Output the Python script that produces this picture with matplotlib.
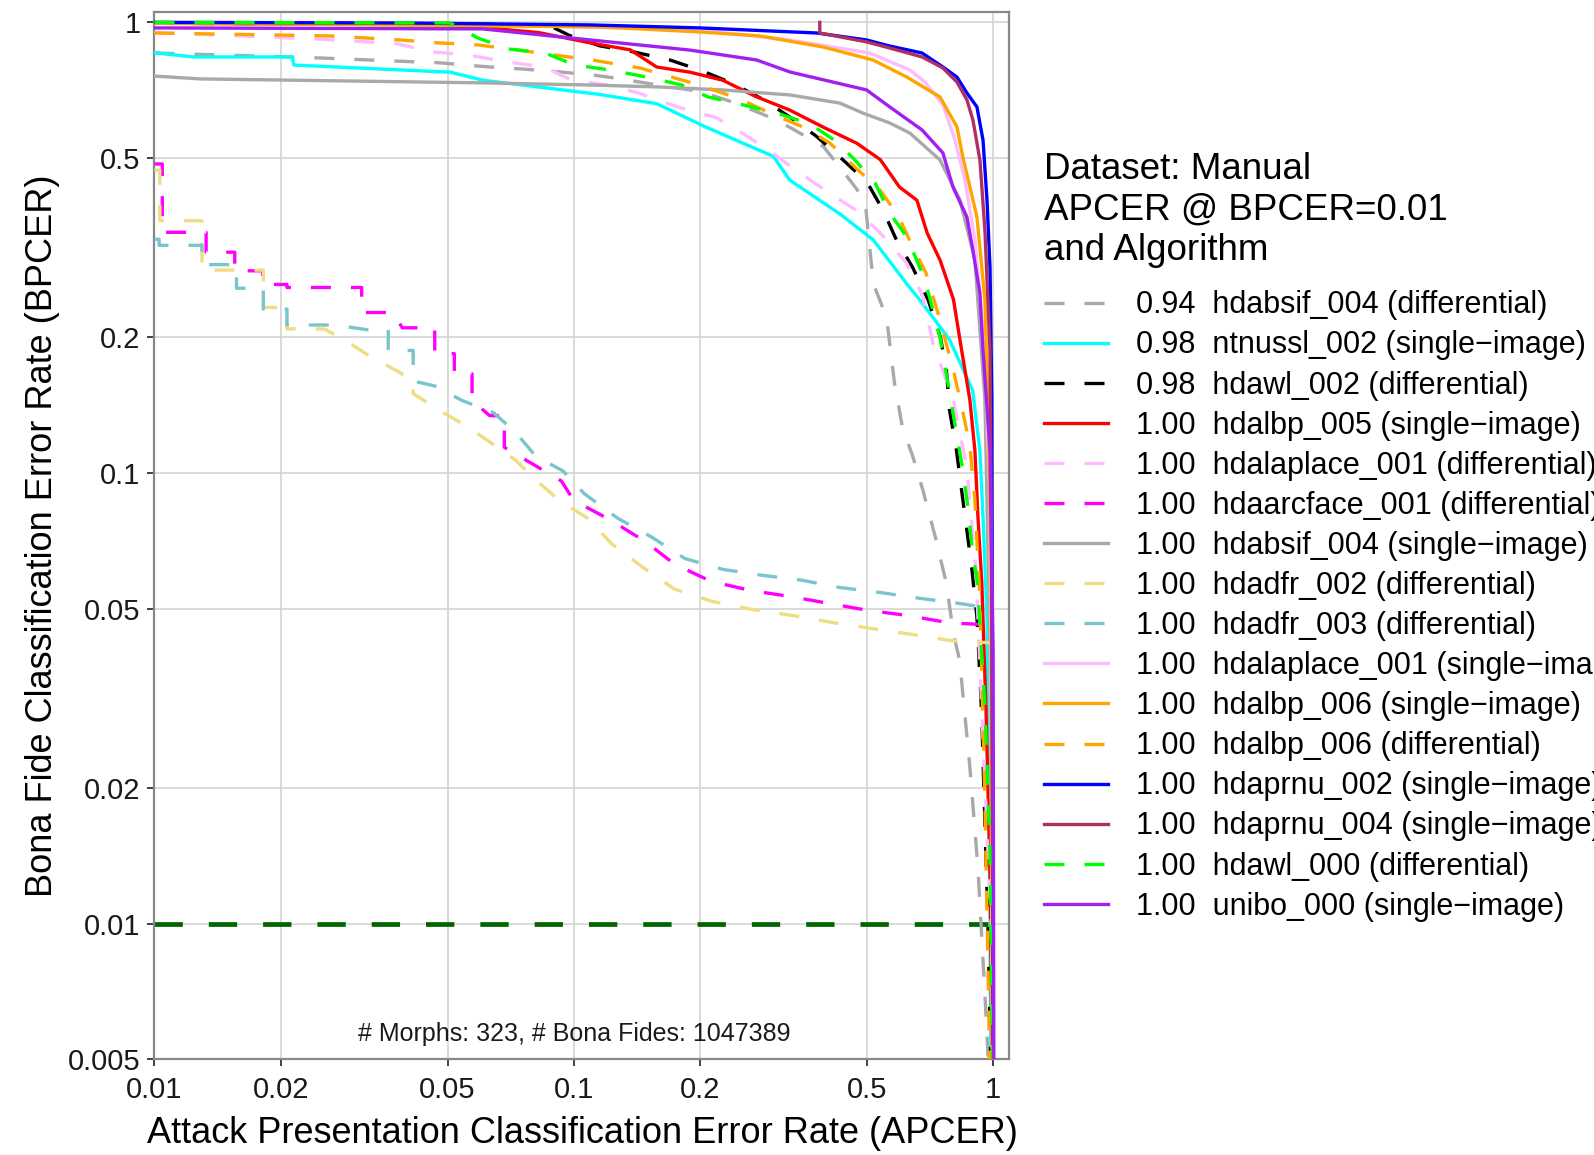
import numpy as np
import matplotlib.pyplot as plt
from matplotlib.ticker import FixedLocator, FixedFormatter, NullLocator

plt.rcParams['font.family'] = ['Liberation Sans', 'DejaVu Sans']

# ---- data (APCER on x, BPCER on y) ----
apcer_absif_diff = [0.01, 0.0245, 0.048, 0.063, 0.0768, 0.093, 0.111, 0.122, 0.2, 0.24, 0.305, 0.394, 0.455,
                    0.495, 0.518, 0.557, 0.582, 0.608, 0.643, 0.680, 0.728, 0.774, 0.804, 0.832, 0.88, 0.92,
                    0.967, 0.978]
bpcer_absif_diff = [0.855, 0.834, 0.813, 0.796, 0.787, 0.776, 0.764, 0.755, 0.702, 0.665, 0.607, 0.530, 0.447,
                    0.403, 0.263, 0.2215, 0.158, 0.126, 0.109, 0.0916, 0.0721, 0.0568, 0.044, 0.0384, 0.0223,
                    0.0133, 0.0057, 0.0045]

apcer_ntnussl = [0.01, 0.01236, 0.0213, 0.0215, 0.0508, 0.0607, 0.115, 0.1576, 0.207, 0.2995, 0.327, 0.4305,
                 0.518, 0.622, 0.669, 0.787, 0.894, 0.930, 0.946, 0.967, 0.978, 0.989]
bpcer_ntnussl = [0.856, 0.838, 0.838, 0.804, 0.775, 0.744, 0.692, 0.660, 0.585, 0.504, 0.447, 0.376,
                 0.329, 0.263, 0.242, 0.1977, 0.1524, 0.112, 0.080, 0.0478, 0.0175, 0.0045]

apcer_wl002 = [0.01, 0.0624, 0.0872, 0.0977, 0.1153, 0.1387, 0.1695, 0.2004, 0.2394, 0.283, 0.327, 0.3786,
               0.4377, 0.5005, 0.547, 0.588, 0.643, 0.70, 0.748, 0.774, 0.787, 0.818, 0.841, 0.870, 0.889,
               0.915, 0.940, 0.946, 0.972, 0.989]
bpcer_wl002 = [0.995, 0.99, 0.985, 0.935, 0.887, 0.860, 0.825, 0.783, 0.732, 0.674, 0.617, 0.559,
               0.496, 0.442, 0.382, 0.329, 0.2857, 0.242, 0.2006, 0.169, 0.138, 0.112, 0.0916, 0.0721, 0.0617,
               0.0478, 0.0287, 0.023, 0.01, 0.0045]

apcer_lbp005 = [0.01, 0.0399, 0.0607, 0.0825, 0.109, 0.1363, 0.1576, 0.1895, 0.2265, 0.2723, 0.327, 0.394,
                0.4733, 0.538, 0.598, 0.658, 0.696, 0.748, 0.804, 0.841, 0.880, 0.905, 0.920, 0.940, 0.962,
                0.985, 0.994]
bpcer_lbp005 = [0.995, 0.99, 0.974, 0.949, 0.901, 0.869, 0.796, 0.775, 0.744, 0.684, 0.639, 0.585,
                0.539, 0.496, 0.431, 0.403, 0.341, 0.296, 0.243, 0.1876, 0.1454, 0.112, 0.080, 0.0568, 0.0295,
                0.012, 0.0045]

apcer_lap_diff = [0.01, 0.0235, 0.0378, 0.0459, 0.0558, 0.0698, 0.0853, 0.0986, 0.122, 0.144, 0.176, 0.219,
                  0.253, 0.2995, 0.346, 0.407, 0.473, 0.538, 0.622, 0.680, 0.719, 0.804, 0.865, 0.910, 0.940,
                  0.989, 1.0]
bpcer_lap_diff = [0.95, 0.92, 0.897, 0.860, 0.847, 0.816, 0.796, 0.744, 0.725, 0.695, 0.650, 0.614,
                  0.567, 0.511, 0.463, 0.418, 0.382, 0.341, 0.292, 0.246, 0.1935, 0.1454, 0.103, 0.061, 0.0295,
                  0.01, 0.0045]

apcer_arcface = [0.0100, 0.01044, 0.01044, 0.01328, 0.01328, 0.01554, 0.01554, 0.0181, 0.0181, 0.0207, 0.0207,
                 0.0312, 0.0312, 0.037, 0.039, 0.0466, 0.0466, 0.0519, 0.0519, 0.0572, 0.0572, 0.063, 0.0683,
                 0.0683, 0.0934, 0.1, 0.1227, 0.1478, 0.1742, 0.2123, 0.263, 0.3277, 0.4036, 0.500, 0.6226,
                 0.776, 0.82, 0.99, 0.995]
bpcer_arcface = [0.485, 0.485, 0.342, 0.342, 0.309, 0.309, 0.281, 0.281, 0.262, 0.262, 0.258,
                 0.258, 0.227, 0.227, 0.210, 0.210, 0.184, 0.184, 0.166, 0.166, 0.145, 0.134, 0.134,
                 0.114, 0.096, 0.0869, 0.0785, 0.0705, 0.0627, 0.0575, 0.0549, 0.0532, 0.0514, 0.0496, 0.0483,
                 0.0466, 0.0464, 0.046, 0.004]

apcer_absif_single = [0.01, 0.01284, 0.0607, 0.1094, 0.158, 0.2268, 0.3277, 0.431, 0.489, 0.567, 0.633,
                      0.747, 0.833, 0.905, 0.956, 0.983, 1.0]
bpcer_absif_single = [0.760, 0.749, 0.734, 0.726, 0.719, 0.708, 0.690, 0.662, 0.629, 0.598, 0.568,
                      0.495, 0.404, 0.297, 0.145, 0.0404, 0.0045]

apcer_dfr002 = [0.0100, 0.0103, 0.0103, 0.01298, 0.01298, 0.01818, 0.01818, 0.0207, 0.0207, 0.0254, 0.0285,
                0.0328, 0.0381, 0.0414, 0.0414, 0.0489, 0.0563, 0.064, 0.0724, 0.0834, 0.0924, 0.108, 0.1234,
                0.147, 0.1742, 0.2135, 0.266, 0.331, 0.4127, 0.511, 0.633, 0.789, 0.833, 0.99, 0.995]
bpcer_dfr002 = [0.47, 0.47, 0.363, 0.363, 0.282, 0.282, 0.233, 0.233, 0.2088, 0.2088, 0.197,
                0.181, 0.168, 0.16, 0.150, 0.136, 0.126, 0.116, 0.107, 0.0944, 0.0869, 0.0793, 0.0695,
                0.0615, 0.0552, 0.0519, 0.0498, 0.0483, 0.0466, 0.0452, 0.0439, 0.0425, 0.0423, 0.042, 0.004]

apcer_dfr003 = [0.0100, 0.01026, 0.01026, 0.01298, 0.01298, 0.01569, 0.01569, 0.01818, 0.01818, 0.0207, 0.0207,
                0.0269, 0.0321, 0.0361, 0.0361, 0.0414, 0.0414, 0.0466, 0.054, 0.0644, 0.0727, 0.0811, 0.0943,
                0.106, 0.1274, 0.1536, 0.184, 0.2268, 0.281, 0.35, 0.431, 0.537, 0.669, 0.824, 0.905, 0.99,
                0.995]
bpcer_dfr003 = [0.33, 0.33, 0.320, 0.320, 0.290, 0.290, 0.257, 0.257, 0.231, 0.231, 0.213,
                0.213, 0.208, 0.208, 0.187, 0.187, 0.160, 0.156, 0.145, 0.136, 0.123, 0.109, 0.101,
                0.0899, 0.0793, 0.072, 0.0646, 0.0611, 0.0593, 0.0578, 0.0557, 0.0543, 0.0527, 0.0514, 0.0507,
                0.050, 0.004]

apcer_lap_single = [0.01, 0.0667, 0.2, 0.3277, 0.508, 0.633, 0.688, 0.759, 0.811, 0.856, 0.905, 0.956, 0.983, 1.0]
bpcer_lap_single = [0.997, 0.987, 0.962, 0.914, 0.855, 0.784, 0.737, 0.656, 0.548, 0.447, 0.329, 0.1874,
                    0.087, 0.0045]

apcer_lbp006_single = [0.01, 0.1154, 0.2, 0.2777, 0.3926, 0.517, 0.623, 0.747, 0.820, 0.847, 0.915, 0.956,
                       0.972, 0.988, 1.0]
bpcer_lbp006_single = [0.997, 0.977, 0.952, 0.933, 0.882, 0.825, 0.756, 0.683, 0.586, 0.502, 0.370, 0.2417,
                       0.145, 0.0674, 0.0045]

apcer_lbp006_diff = [0.01, 0.0262, 0.0385, 0.048, 0.0591, 0.0736, 0.0902, 0.1105, 0.1438, 0.1923, 0.246,
                     0.2936, 0.352, 0.4077, 0.468, 0.537, 0.593, 0.64, 0.6915, 0.747, 0.806, 0.847, 0.88, 0.905,
                     0.930, 0.956, 0.983]
bpcer_lbp006_diff = [0.947, 0.933, 0.914, 0.90, 0.891, 0.868, 0.846, 0.825, 0.792, 0.733, 0.679,
                     0.629, 0.586, 0.540, 0.4775, 0.4245, 0.3736, 0.3204, 0.278, 0.2184, 0.1675, 0.1364, 0.115,
                     0.087, 0.0522, 0.0188, 0.0045]

apcer_prnu002 = [0.01, 0.0385, 0.1094, 0.2, 0.38, 0.499, 0.567, 0.677, 0.759, 0.82, 0.866, 0.915, 0.946,
                 0.967, 0.983, 0.993, 1.0]
bpcer_prnu002 = [1.0, 0.997, 0.987, 0.972, 0.947, 0.914, 0.886, 0.855, 0.796, 0.756, 0.697, 0.649, 0.548,
                 0.403, 0.2864, 0.145, 0.0045]

apcer_prnu004 = [0.386, 0.386, 0.499, 0.567, 0.677, 0.759, 0.82, 0.866, 0.895, 0.930, 0.956, 0.983, 0.993, 1.0]
bpcer_prnu004 = [1.0, 0.947, 0.905, 0.877, 0.838, 0.792, 0.737, 0.673, 0.607, 0.495, 0.346, 0.1874,
                 0.0522, 0.0045]

apcer_wl000 = [0.01, 0.0507, 0.0591, 0.0697, 0.0854, 0.1006, 0.122, 0.1494, 0.181, 0.209, 0.253, 0.305,
               0.366, 0.424, 0.468, 0.523, 0.567, 0.623, 0.688, 0.747, 0.789, 0.82, 0.847, 0.871, 0.89, 0.92,
               0.930, 0.956, 0.983, 1.0]
bpcer_wl000 = [1.0, 0.997, 0.923, 0.873, 0.855, 0.804, 0.784, 0.756, 0.726, 0.683, 0.656, 0.629,
               0.595, 0.543, 0.495, 0.44, 0.377, 0.334, 0.268, 0.20, 0.149, 0.121, 0.1014, 0.0839, 0.0691,
               0.0557, 0.0459, 0.0305, 0.0145, 0.0045]

apcer_unibo = [0.01, 0.0607, 0.1094, 0.189, 0.273, 0.3277, 0.499, 0.567, 0.677, 0.759, 0.802, 0.866, 0.895,
               0.930, 0.946, 0.983, 1.0, 1.004]
bpcer_unibo = [0.972, 0.967, 0.914, 0.868, 0.825, 0.776, 0.708, 0.649, 0.577, 0.513, 0.431, 0.370, 0.312,
               0.2506, 0.1874, 0.1123, 0.0404, 0.0045]

threshold_x = [0.01, 0.978]
threshold_y = [0.01, 0.01]

algorithms = ["hdabsif_004 (differential)", "ntnussl_002 (single\u2212image)", "hdawl_002 (differential)",
              "hdalbp_005 (single\u2212image)", "hdalaplace_001 (differential)", "hdaarcface_001 (differential)",
              "hdabsif_004 (single\u2212image)", "hdadfr_002 (differential)", "hdadfr_003 (differential)",
              "hdalaplace_001 (single\u2212image)", "hdalbp_006 (single\u2212image)", "hdalbp_006 (differential)",
              "hdaprnu_002 (single\u2212image)", "hdaprnu_004 (single\u2212image)", "hdawl_000 (differential)",
              "unibo_000 (single\u2212image)"]
apcer_at_bpcer = [0.94, 0.98, 0.98, 1.00, 1.00, 1.00, 1.00, 1.00, 1.00, 1.00, 1.00, 1.00, 1.00, 1.00, 1.00, 1.00]

curves = [(apcer_absif_diff, bpcer_absif_diff), (apcer_ntnussl, bpcer_ntnussl), (apcer_wl002, bpcer_wl002),
          (apcer_lbp005, bpcer_lbp005), (apcer_lap_diff, bpcer_lap_diff), (apcer_arcface, bpcer_arcface),
          (apcer_absif_single, bpcer_absif_single), (apcer_dfr002, bpcer_dfr002), (apcer_dfr003, bpcer_dfr003),
          (apcer_lap_single, bpcer_lap_single), (apcer_lbp006_single, bpcer_lbp006_single),
          (apcer_lbp006_diff, bpcer_lbp006_diff), (apcer_prnu002, bpcer_prnu002), (apcer_prnu004, bpcer_prnu004),
          (apcer_wl000, bpcer_wl000), (apcer_unibo, bpcer_unibo)]

colors = ["#A9A9A9", "#00FFFF", "#000000", "#FF0000", "#FFBBFF", "#FF00FF", "#A9A9A9", "#EEDD82",
          "#7AC5CD", "#FFBBFF", "#FFA500", "#FFA500", "#0000FF", "#B03060", "#00FF00", "#A020F0"]
dashed = [True, False, True, False, True, True, False, True, True, False, False, True, False, False, True, False]

# ---- plot ----
fig = plt.figure(figsize=(15.94, 11.55), dpi=100)
ax = fig.add_axes([0.0969, 0.0829, 0.5364, 0.9065])

ax.plot(threshold_x, threshold_y, color="#006400", lw=3.4, dashes=(6, 5.5), zorder=2)

for i in range(len(curves)):
    x, y = curves[i]
    lab = "%.2f  %s" % (apcer_at_bpcer[i], algorithms[i])
    if dashed[i]:
        ax.plot(x, y, color=colors[i], lw=2.4, dashes=(6, 6), label=lab, zorder=3)
    else:
        ax.plot(x, y, color=colors[i], lw=2.4, label=lab, zorder=3)

ax.set_xscale("log")
ax.set_yscale("log")
ax.set_xlim(0.01, 1.094)
ax.set_ylim(0.005, 1.053)

xt = [0.01, 0.02, 0.05, 0.1, 0.2, 0.5, 1]
yt = [0.005, 0.01, 0.02, 0.05, 0.1, 0.2, 0.5, 1]
ax.xaxis.set_major_locator(FixedLocator(xt))
ax.xaxis.set_major_formatter(FixedFormatter(["0.01", "0.02", "0.05", "0.1", "0.2", "0.5", "1"]))
ax.yaxis.set_major_locator(FixedLocator(yt))
ax.yaxis.set_major_formatter(FixedFormatter(["0.005", "0.01", "0.02", "0.05", "0.1", "0.2", "0.5", "1"]))
ax.xaxis.set_minor_locator(NullLocator())
ax.yaxis.set_minor_locator(NullLocator())

ax.grid(True, color="#D4D4D4", lw=1.2, zorder=0)
ax.set_axisbelow(True)
for s in ax.spines.values():
    s.set_color("#888888")
    s.set_linewidth(1.6)
ax.tick_params(axis="both", direction="out", length=5, width=1.3, color="#333333", labelsize=21,
               labelcolor="#1A1A1A")
ax.tick_params(axis="x", pad=7)
ax.tick_params(axis="y", pad=5)

ax.set_xlabel("Attack Presentation Classification Error Rate (APCER)", fontsize=26, labelpad=9)
ax.set_ylabel("Bona Fide Classification Error Rate (BPCER)", fontsize=26, labelpad=6)

ax.text(0.1, 0.0057, "# Morphs: 323, # Bona Fides: 1047389", fontsize=18, ha="center", va="center",
        color="#1A1A1A")

leg = fig.legend(loc="upper left", bbox_to_anchor=(0.6455, 0.882), frameon=False, fontsize=22,
                 title="Dataset: Manual\nAPCER @ BPCER=0.01\nand Algorithm", title_fontsize=26.5,
                 alignment="left", handlelength=2.1, handletextpad=0.9, labelspacing=0.33, borderpad=0)
leg.get_title().set_linespacing(1.22)
# extra gap between the title block and the entries
leg._legend_box.sep = 0.33 * 22 + 8.5

fig.savefig("out.png", dpi=100)
